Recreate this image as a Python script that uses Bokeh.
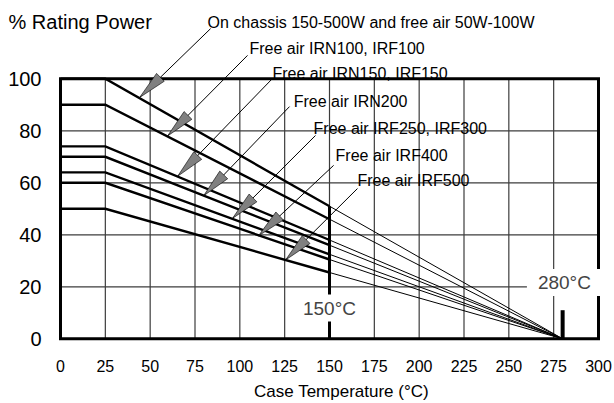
import math
from bokeh.plotting import figure
from bokeh.models import ColumnDataSource, FixedTicker, Label, Range1d
from bokeh.core.properties import value
from bokeh.embed import file_html
from bokeh.resources import INLINE

# ---- data ----
x_ticks = [0, 25, 50, 75, 100, 125, 150, 175, 200, 225, 250, 275, 300]
y_ticks = [0, 20, 40, 60, 80, 100]

levels = [100, 90, 74, 70, 64, 60, 50]            # % rating up to 25 degC
end_values = [51, 46, 38, 36, 32.5, 30.5, 25.5]   # % rating at 150 degC
knee_temp = 25
limit_temp = 150
zero_temp = 280
limit_marker_top = 51
zero_marker_top = 11

labels = ["On chassis 150-500W and free air 50W-100W",
          "Free air IRN100, IRF100",
          "Free air IRN150, IRF150",
          "Free air IRN200",
          "Free air IRF250, IRF300",
          "Free air IRF400",
          "Free air IRF500"]
label_x = [82.0, 105.4, 118.2, 130.0, 141.1, 153.4, 165.6]
label_y = [121.7, 111.7, 102.0, 91.3, 81.0, 70.5, 60.9]
leader_x0 = [83.7, 104.3, 118.2, 127.7, 142.2, 152.3, 165.6]
leader_y0 = [119.3, 109.0, 100.1, 89.3, 78.2, 66.7, 57.8]
tip_x = [44.1, 59.7, 65.3, 79.8, 95.9, 110.4, 125.5]
tip_y = [92.8, 78.0, 62.5, 55.0, 46.3, 39.6, 30.3]

# ---- layout ----
FONT = "Liberation Sans"
W, H = 612, 401
SX = 538 / 300.0          # px per degC
SY = 260 / 100.0          # px per %
ORIGIN_PX = (60, 338.3)   # where (0, 0) sits on the canvas

x_start = -ORIGIN_PX[0] / SX
x_end = (W - ORIGIN_PX[0]) / SX
y_start = -(H - ORIGIN_PX[1]) / SY
y_end = ORIGIN_PX[1] / SY

p = figure(frame_width=W, frame_height=H,
           x_range=Range1d(x_start, x_end), y_range=Range1d(y_start, y_end),
           output_backend="svg", toolbar_location=None, min_border=0)
p.background_fill_color = "white"
p.border_fill_color = "white"
p.outline_line_color = None
p.xgrid.visible = False
p.ygrid.visible = False

for ax in (p.xaxis[0], p.yaxis[0]):
    ax.fixed_location = 0
    ax.axis_line_color = None
    ax.major_tick_line_color = None
    ax.minor_tick_line_color = None
    ax.major_tick_out = 0
    ax.major_tick_in = 0
    ax.major_label_text_font = FONT
    ax.major_label_text_color = "black"
p.xaxis[0].ticker = FixedTicker(ticks=x_ticks)
p.yaxis[0].ticker = FixedTicker(ticks=y_ticks)
p.xaxis[0].major_label_text_font_size = "16px"
p.yaxis[0].major_label_text_font_size = "20px"
p.xaxis[0].major_label_standoff = 21
p.yaxis[0].major_label_standoff = 19

# grid
nx, ny = len(x_ticks), len(y_ticks)
p.segment(x0=x_ticks, y0=[y_ticks[0]] * nx, x1=x_ticks, y1=[y_ticks[-1]] * nx,
          line_color="#3c3c3c", line_width=1.2)
p.segment(x0=[x_ticks[0]] * ny, y0=y_ticks, x1=[x_ticks[-1]] * ny, y1=y_ticks,
          line_color="#3c3c3c", line_width=1.2)

# thick derating curves (flat to knee, then down to 150 degC)
thick_xs = [[0, knee_temp, limit_temp] for _ in levels]
thick_ys = [[lv, lv, ev] for lv, ev in zip(levels, end_values)]
p.multi_line(xs=thick_xs, ys=thick_ys, line_color="black", line_width=2.4,
             line_join="miter")

# thin extrapolations to zero at 280 degC
thin_xs = [[limit_temp, zero_temp] for _ in levels]
thin_ys = [[ev, 0] for ev in end_values]
p.multi_line(xs=thin_xs, ys=thin_ys, line_color="black", line_width=1)

# vertical markers at 150 and 280 degC
p.segment(x0=[limit_temp, zero_temp], y0=[0, 0],
          x1=[limit_temp, zero_temp], y1=[limit_marker_top, zero_marker_top],
          line_color="black", line_width=[3, 4])

# chart border
p.quad(left=x_ticks[0], right=x_ticks[-1], bottom=y_ticks[0], top=y_ticks[-1],
       fill_color=None, line_color="black", line_width=3, line_join="miter")

# leader lines
p.segment(x0=leader_x0, y0=leader_y0, x1=tip_x, y1=tip_y,
          line_color="black", line_width=1)

# gray arrow heads
HEAD_LEN, HEAD_HALF = 29, 5.5
head_xs, head_ys = [], []
for x0, y0, tx, ty in zip(leader_x0, leader_y0, tip_x, tip_y):
    dx, dy = (x0 - tx) * SX, (y0 - ty) * SY
    L = math.hypot(dx, dy)
    ux, uy = dx / L, dy / L
    px, py = -uy, ux
    bx, by = ux * HEAD_LEN, uy * HEAD_LEN
    pts = [(0, 0), (bx + px * HEAD_HALF, by + py * HEAD_HALF),
           (bx - px * HEAD_HALF, by - py * HEAD_HALF)]
    head_xs.append([tx + a / SX for a, b in pts])
    head_ys.append([ty + b / SY for a, b in pts])
p.patches(xs=head_xs, ys=head_ys, fill_color="#808080", line_color="black",
          line_width=0.6)

# annotation texts
src = ColumnDataSource(dict(x=label_x, y=label_y, text=labels))
p.text(x="x", y="y", text="text", source=src, text_font=value(FONT),
       text_font_size=value("16px"), text_align="left", text_baseline="middle",
       text_color="black")

# temperature labels on white boxes
p.add_layout(Label(x=limit_temp, y=11.8, text="150°C", text_font=FONT,
                   text_font_size="19px", text_align="center",
                   text_baseline="middle", background_fill_color="white",
                   padding=dict(left=5, right=5, top=3, bottom=3)))
p.add_layout(Label(x=281, y=21.7, text="280°C", text_font=FONT,
                   text_font_size="19px", text_align="center",
                   text_baseline="middle", background_fill_color="white",
                   padding=dict(left=11, right=11, top=3, bottom=3)))

# axis titles
p.add_layout(Label(x=-29, y=121.7, text="% Rating Power", text_font=FONT,
                   text_font_size="20px", text_align="left",
                   text_baseline="middle", text_color="black"))
p.add_layout(Label(x=156.7, y=-20.2, text="Case Temperature (°C)", text_font=FONT,
                   text_font_size="17px", text_align="center",
                   text_baseline="middle", text_color="black"))

open("out.html", "w").write(file_html(p, INLINE))
